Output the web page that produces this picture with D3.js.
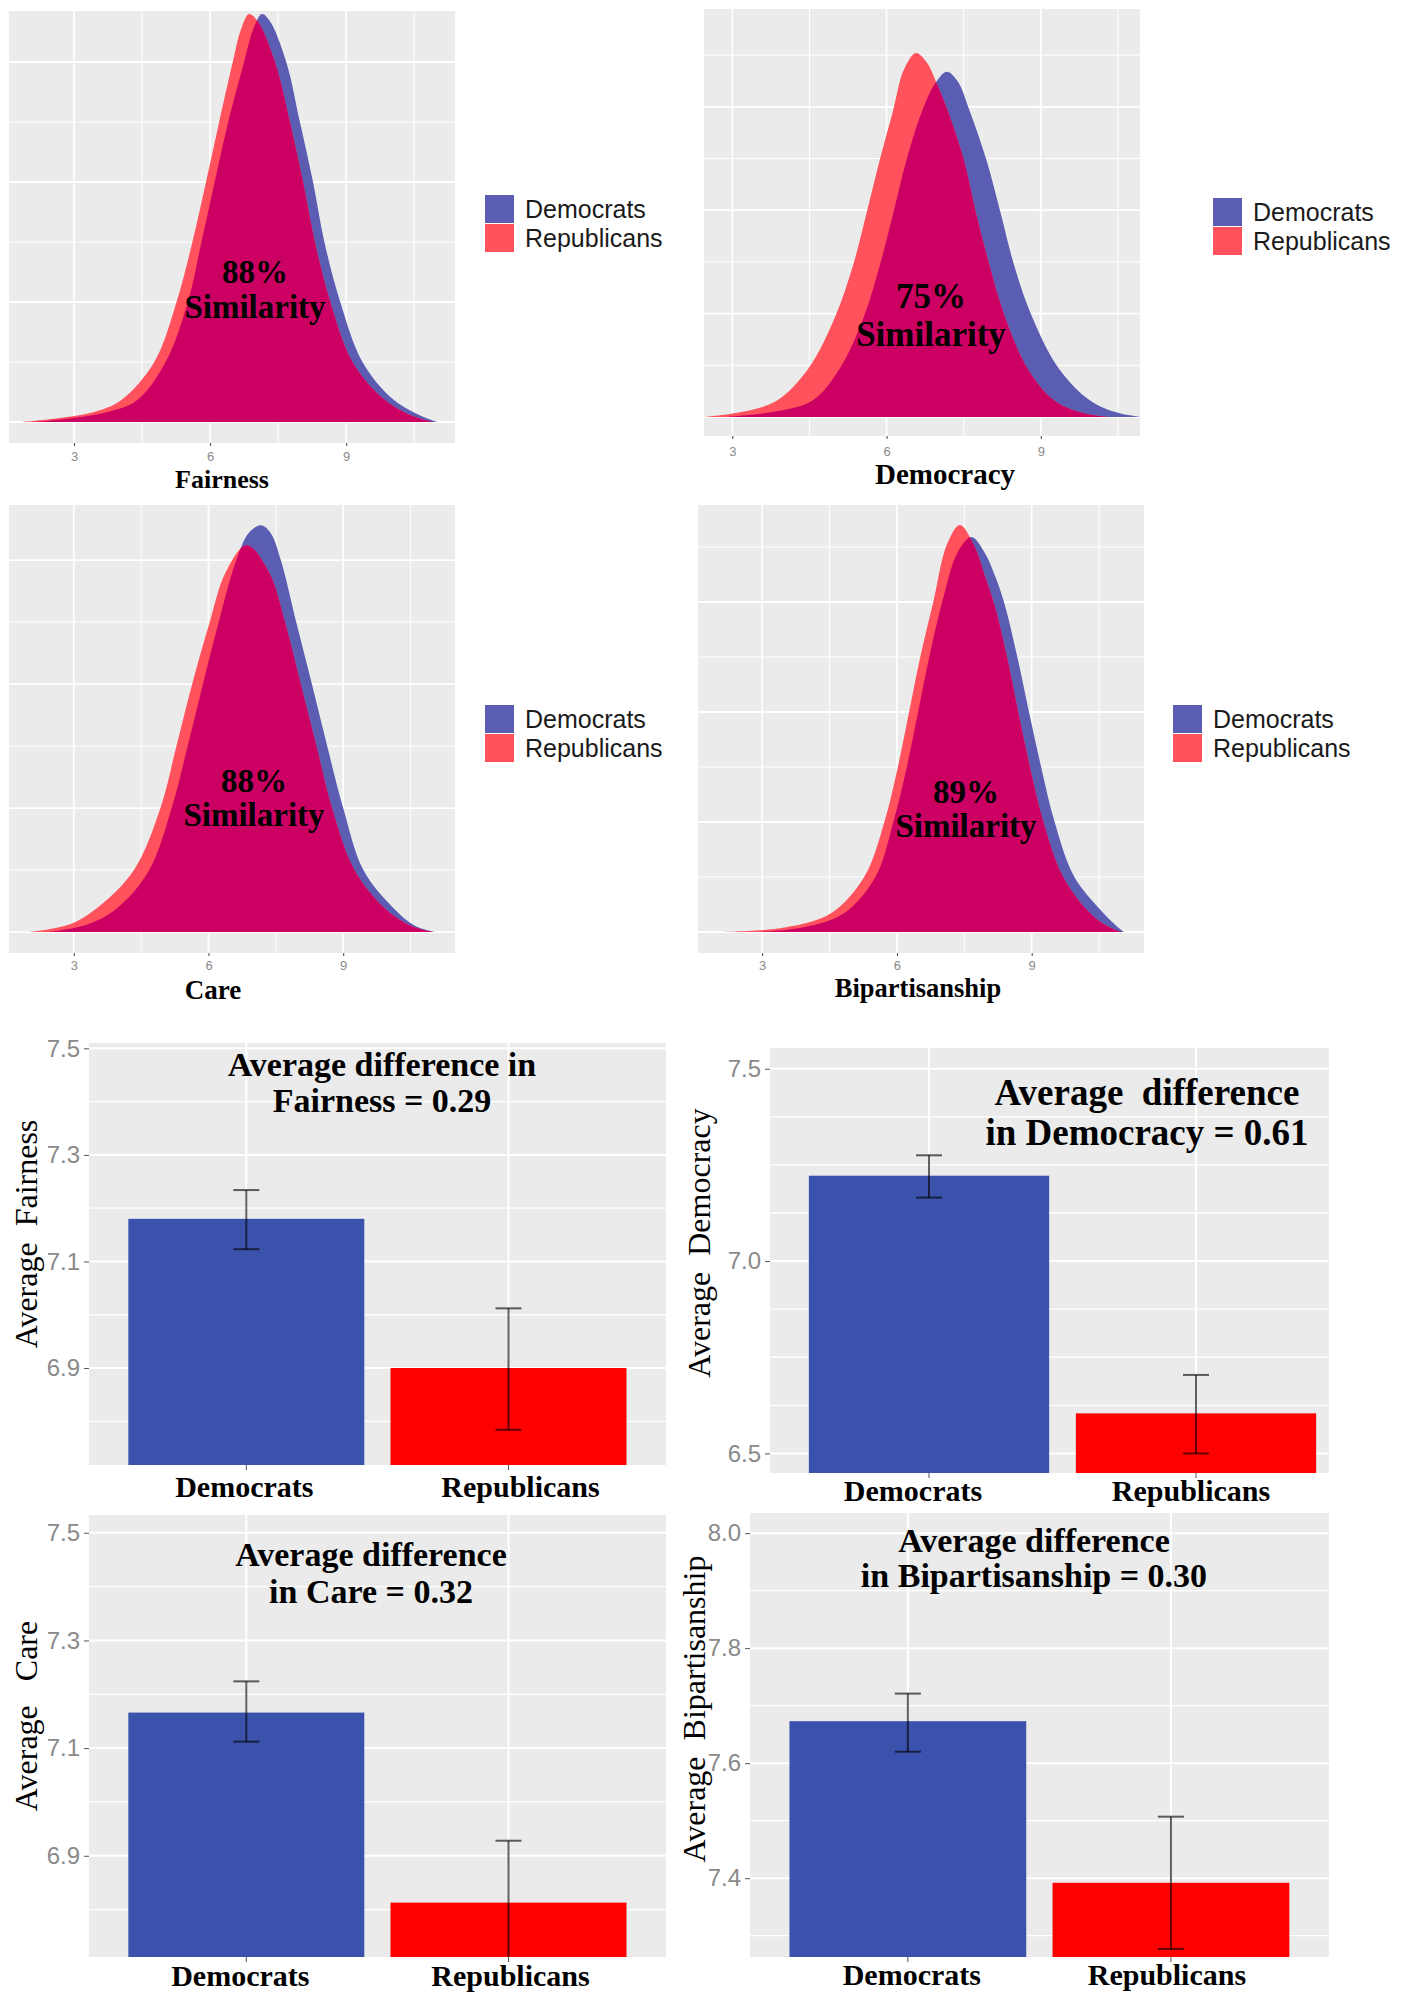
<!DOCTYPE html>
<html><head><meta charset="utf-8">
<script src="https://cdn.jsdelivr.net/npm/d3@7"></script>
<style>
body{margin:0;background:#fff}
svg{display:block}
text{white-space:pre}
</style>
</head><body>
<svg id="chart" width="1402" height="2000"></svg>
<script>
// ---------------- DATA ----------------
const parties = ["Democrats", "Republicans"];
const densityTicks = [3, 6, 9];
const densityNames = ["Fairness", "Democracy", "Care", "Bipartisanship"];
const similarityLabels = ["88%", "75%", "88%", "89%"];

// density curves: [score, density]
const fairnessDem = [[2.1,0],[2.9,0.003],[3.7,0.008],[4.38,0.018],[5.02,0.05],[5.51,0.10],[5.81,0.15],[6.10,0.20],[6.40,0.25],[6.75,0.30],[6.95,0.327],[7.14,0.34],[7.32,0.334],[7.68,0.30],[7.98,0.25],[8.27,0.20],[8.52,0.15],[8.87,0.10],[9.36,0.05],[10.0,0.02],[10.6,0.006],[11.0,0]];
const fairnessRep = [[1.8,0],[2.6,0.003],[3.4,0.008],[4.03,0.018],[4.77,0.05],[5.26,0.10],[5.61,0.15],[5.91,0.20],[6.20,0.25],[6.50,0.30],[6.68,0.327],[6.86,0.34],[7.05,0.334],[7.43,0.30],[7.76,0.25],[8.05,0.20],[8.31,0.15],[8.65,0.10],[9.14,0.05],[9.8,0.02],[10.4,0.006],[10.9,0]];
const democracyDem = [[2.9,0],[3.8,0.005],[4.56,0.016],[5.09,0.047],[5.56,0.097],[5.87,0.147],[6.13,0.197],[6.39,0.249],[6.70,0.297],[6.95,0.323],[7.17,0.334],[7.38,0.325],[7.61,0.297],[7.94,0.249],[8.22,0.197],[8.48,0.147],[8.83,0.097],[9.35,0.047],[9.96,0.016],[10.5,0.004],[10.96,0]];
const democracyRep = [[2.45,0],[3.2,0.005],[3.87,0.016],[4.48,0.047],[5.0,0.097],[5.35,0.147],[5.61,0.197],[5.87,0.249],[6.13,0.297],[6.33,0.335],[6.57,0.352],[6.78,0.343],[6.98,0.322],[7.22,0.292],[7.50,0.249],[7.74,0.197],[8.0,0.147],[8.3,0.097],[8.74,0.047],[9.26,0.016],[9.8,0.004],[10.3,0]];
const careDem = [[2.45,0],[3.3,0.006],[3.99,0.02],[4.68,0.05],[5.18,0.10],[5.53,0.149],[5.87,0.199],[6.22,0.249],[6.62,0.30],[6.9,0.322],[7.17,0.328],[7.38,0.322],[7.61,0.30],[7.96,0.249],[8.31,0.199],[8.65,0.149],[9.00,0.10],[9.45,0.05],[10.10,0.02],[10.6,0.005],[11.04,0]];
const careRep = [[2.0,0],[2.9,0.006],[3.54,0.02],[4.34,0.05],[4.93,0.10],[5.28,0.149],[5.63,0.199],[6.02,0.249],[6.38,0.29],[6.85,0.312],[7.35,0.29],[7.71,0.249],[8.06,0.199],[8.41,0.149],[8.75,0.10],[9.25,0.05],[9.90,0.02],[10.5,0.005],[11.0,0]];
const bipDem = [[2.9,0],[3.9,0.004],[4.82,0.017],[5.52,0.05],[5.92,0.10],[6.22,0.15],[6.47,0.20],[6.72,0.25],[7.02,0.302],[7.35,0.345],[7.66,0.359],[7.95,0.345],[8.2,0.322],[8.41,0.296],[8.68,0.25],[8.94,0.20],[9.21,0.15],[9.51,0.10],[9.95,0.05],[10.60,0.017],[10.9,0.005],[11.05,0]];
const bipRep = [[2.0,0],[3.5,0.004],[4.53,0.017],[5.27,0.05],[5.72,0.10],[6.02,0.15],[6.27,0.20],[6.52,0.25],[6.82,0.302],[7.11,0.352],[7.40,0.37],[7.71,0.352],[7.97,0.322],[8.18,0.296],[8.45,0.25],[8.70,0.20],[8.96,0.15],[9.26,0.10],[9.70,0.05],[10.30,0.017],[10.7,0.005],[11.0,0]];

// bar charts: means and error-bar ends (Democrats, Republicans)
const fairnessMeans = [7.18, 6.90];
const fairnessLow   = [7.123, 6.784];
const fairnessHigh  = [7.234, 7.012];
const democracyMeans = [7.222, 6.604];
const democracyLow   = [7.165, 6.500];
const democracyHigh  = [7.275, 6.704];
const careMeans = [7.166, 6.813];
const careLow   = [7.112, 6.698];
const careHigh  = [7.224, 6.928];
const bipMeans = [7.673, 7.392];
const bipLow   = [7.620, 7.277];
const bipHigh  = [7.721, 7.507];

const fairnessTicks = [6.9, 7.1, 7.3, 7.5];
const democracyTicks = [6.5, 7.0, 7.5];
const careTicks = [6.9, 7.1, 7.3, 7.5];
const bipTicks = [7.4, 7.6, 7.8, 8.0];

const barYLabels = ["Average  Fairness", "Average  Democracy", "Average   Care", "Average  Bipartisanship"];
const barTitles = [
  ["Average difference in", "Fairness = 0.29"],
  ["Average  difference", "in Democracy = 0.61"],
  ["Average difference", "in Care = 0.32"],
  ["Average difference", "in Bipartisanship = 0.30"]
];

// ---------------- STYLE ----------------
const SERIF = "'Liberation Serif','Times New Roman',serif";
const SANS = "'Liberation Sans',Arial,sans-serif";
const C = {bg:"#EBEBEB", dDem:"#5B5DB3", dRep:"#FF525C", dBoth:"#CC0063", bDem:"#3A52AB", bRep:"#FF0000"};

const svg = d3.select("#chart");
const defs = svg.append("defs");

// ---------------- DENSITY PANELS ----------------
const densityLayout = [
  {dem:fairnessDem, rep:fairnessRep, x0:9, x1:455, y0:11, y1:443, xDom:[1.566,11.40], yDom:[-0.0175,0.3425],
   leg:[485,195], simX:255, simY:[283,318], simSize:33, titleX:222, titleY:488, titleSize:26, tickY:461},
  {dem:democracyDem, rep:democracyRep, x0:704, x1:1140, y0:9, y1:436, xDom:[2.449,10.93], yDom:[-0.0184,0.3946],
   leg:[1213,198], simX:931, simY:[308,346], simSize:35, titleX:945, titleY:484, titleSize:29, tickY:456},
  {dem:careDem, rep:careRep, x0:9, x1:455, y0:505, y1:953, xDom:[1.557,11.49], yDom:[-0.0169,0.3444],
   leg:[485,705], simX:254, simY:[792,826], simSize:33, titleX:213, titleY:999, titleSize:27, tickY:970},
  {dem:bipDem, rep:bipRep, x0:698, x1:1144, y0:505, y1:953, xDom:[1.571,11.50], yDom:[-0.0191,0.3882],
   leg:[1173,705], simX:966, simY:[803,837], simSize:33, titleX:918, titleY:997, titleSize:26.5, tickY:970}
];

densityLayout.forEach((p, i) => {
  const g = svg.append("g");
  const x = d3.scaleLinear().domain(p.xDom).range([p.x0, p.x1]);
  const y = d3.scaleLinear().domain(p.yDom).range([p.y1, p.y0]);

  g.append("rect").attr("x", p.x0).attr("y", p.y0).attr("width", p.x1 - p.x0).attr("height", p.y1 - p.y0).attr("fill", C.bg);

  // grid
  const vMajor = densityTicks, vMinor = [4.5, 7.5, 10.5];
  const hVals = d3.range(0, p.yDom[1], 0.05);
  g.selectAll(".vmin").data(vMinor).join("line")
    .attr("x1", d => x(d)).attr("x2", d => x(d)).attr("y1", p.y0).attr("y2", p.y1)
    .attr("stroke", "#fff").attr("stroke-width", 1);
  g.selectAll(".vmaj").data(vMajor).join("line")
    .attr("x1", d => x(d)).attr("x2", d => x(d)).attr("y1", p.y0).attr("y2", p.y1)
    .attr("stroke", "#fff").attr("stroke-width", 1.8);
  g.selectAll(".h").data(hVals).join("line")
    .attr("x1", p.x0).attr("x2", p.x1).attr("y1", d => y(d)).attr("y2", d => y(d))
    .attr("stroke", "#fff").attr("stroke-width", (d, k) => k % 2 === 0 ? 1.8 : 1);

  // clip so that smoothed tails never dip below the baseline
  const pc = "dclip" + i;
  defs.append("clipPath").attr("id", pc).append("rect")
    .attr("x", p.x0).attr("y", p.y0).attr("width", p.x1 - p.x0).attr("height", y(0) - p.y0 + 0.5);

  const area = d3.area().x(d => x(d[0])).y0(y(0)).y1(d => y(d[1])).curve(d3.curveCatmullRom.alpha(0.5));
  const cid = "demclip" + i;
  defs.append("clipPath").attr("id", cid).append("path").attr("d", area(p.dem));
  const dg = g.append("g").attr("clip-path", `url(#${pc})`);
  dg.append("path").attr("d", area(p.dem)).attr("fill", C.dDem);
  dg.append("path").attr("d", area(p.rep)).attr("fill", C.dRep);
  dg.append("path").attr("d", area(p.rep)).attr("fill", C.dBoth).attr("clip-path", `url(#${cid})`);

  // x axis
  const ax = g.append("g").attr("transform", `translate(0,${p.y1})`)
    .call(d3.axisBottom(x).tickValues(densityTicks).tickSize(3).tickPadding(3).tickFormat(d3.format("d")));
  ax.select(".domain").remove();
  ax.selectAll(".tick line").attr("stroke", "#444");
  ax.selectAll(".tick text").attr("fill", "#8a8a8a").attr("font-family", SANS).attr("font-size", 13)
    .attr("y", null).attr("dy", null).attr("transform", `translate(0,${p.tickY - p.y1})`);

  g.append("text").attr("x", p.titleX).attr("y", p.titleY).attr("text-anchor", "middle")
    .attr("font-family", SERIF).attr("font-weight", "bold").attr("font-size", p.titleSize).attr("fill", "#000")
    .text(densityNames[i]);

  // similarity annotation
  g.append("text").attr("x", p.simX).attr("y", p.simY[0]).attr("text-anchor", "middle")
    .attr("font-family", SERIF).attr("font-weight", "bold").attr("font-size", p.simSize).attr("fill", "#000")
    .text(similarityLabels[i]);
  g.append("text").attr("x", p.simX).attr("y", p.simY[1]).attr("text-anchor", "middle")
    .attr("font-family", SERIF).attr("font-weight", "bold").attr("font-size", p.simSize).attr("fill", "#000")
    .text("Similarity");

  // legend
  const lg = g.append("g").attr("transform", `translate(${p.leg[0]},${p.leg[1]})`);
  [C.dDem, C.dRep].forEach((c, k) => {
    lg.append("rect").attr("x", 0).attr("y", k * 29).attr("width", 29).attr("height", 28).attr("fill", c);
    lg.append("text").attr("x", 40).attr("y", k * 29 + 23).attr("font-family", SANS).attr("font-size", 25)
      .attr("fill", "#1a1a1a").text(parties[k]);
  });
});

// ---------------- BAR PANELS ----------------
const barLayout = [
  {means:fairnessMeans, low:fairnessLow, high:fairnessHigh, ticks:fairnessTicks,
   grid:[6.8,6.9,7.0,7.1,7.2,7.3,7.4,7.5], x0:89, x1:666, bandEnd:665.8, y0:1043, y1:1465, yDom:[6.718,7.510],
   titleX:382, titleY:[1076,1112], titleSize:34, ylabX:37, ylabY:1234, labY:1497, labDx:[-2,12]},
  {means:democracyMeans, low:democracyLow, high:democracyHigh, ticks:democracyTicks,
   grid:[6.5,6.625,6.75,6.875,7.0,7.125,7.25,7.375,7.5], x0:770, x1:1329, bandStart:768.8, bandEnd:1356.2, y0:1048, y1:1473, yDom:[6.449,7.554],
   titleX:1147, titleY:[1105,1145], titleSize:37, ylabX:710, ylabY:1243, labY:1501, labDx:[-16,-5]},
  {means:careMeans, low:careLow, high:careHigh, ticks:careTicks,
   grid:[6.8,6.9,7.0,7.1,7.2,7.3,7.4,7.5], x0:89, x1:666, bandEnd:665.8, y0:1515, y1:1957, yDom:[6.712,7.533],
   titleX:371, titleY:[1566,1603], titleSize:34, ylabX:37, ylabY:1716, labY:1986, labDx:[-6,2]},
  {means:bipMeans, low:bipLow, high:bipHigh, ticks:bipTicks,
   grid:[7.3,7.4,7.5,7.6,7.7,7.8,7.9,8.0], x0:750, x1:1329, bandEnd:1328.8, y0:1513, y1:1957, yDom:[7.263,8.035],
   titleX:1034, titleY:[1552,1587], titleSize:34, ylabX:705, ylabY:1709, labY:1985, labDx:[4,-4]}
];

barLayout.forEach((p, i) => {
  const g = svg.append("g");
  const bs = p.bandStart !== undefined ? p.bandStart : p.x0;
  // ggplot-like discrete scale: bars 0.9 wide, 0.6 expansion at each end
  const x = d3.scaleBand().domain(parties).range([bs, p.bandEnd]).paddingInner(0.1).paddingOuter(0.15);
  const y = d3.scaleLinear().domain(p.yDom).range([p.y1, p.y0]);
  const cid = "barclip" + i;
  defs.append("clipPath").attr("id", cid).append("rect")
    .attr("x", p.x0).attr("y", p.y0).attr("width", p.x1 - p.x0).attr("height", p.y1 - p.y0);

  g.append("rect").attr("x", p.x0).attr("y", p.y0).attr("width", p.x1 - p.x0).attr("height", p.y1 - p.y0).attr("fill", C.bg);
  const majors = new Set(p.ticks.map(v => v.toFixed(3)));
  g.selectAll(".hg").data(p.grid).join("line")
    .attr("x1", p.x0).attr("x2", p.x1).attr("y1", d => y(d)).attr("y2", d => y(d))
    .attr("stroke", "#fff").attr("stroke-width", d => majors.has(d.toFixed(3)) ? 2 : 1.3);
  g.selectAll(".vg").data(parties).join("line")
    .attr("x1", d => x(d) + x.bandwidth() / 2).attr("x2", d => x(d) + x.bandwidth() / 2)
    .attr("y1", p.y0).attr("y2", p.y1).attr("stroke", "#fff").attr("stroke-width", 2);

  const plot = g.append("g").attr("clip-path", `url(#${cid})`);
  plot.selectAll(".bar").data(parties).join("rect")
    .attr("x", d => x(d)).attr("width", x.bandwidth())
    .attr("y", (d, k) => y(p.means[k])).attr("height", (d, k) => p.y1 - y(p.means[k]) + 2)
    .attr("fill", (d, k) => k === 0 ? C.bDem : C.bRep);

  const cap = 13;
  parties.forEach((d, k) => {
    const cx = x(d) + x.bandwidth() / 2;
    const eg = plot.append("g").attr("stroke", "#000").attr("stroke-opacity", 0.62).attr("stroke-width", 2);
    eg.append("line").attr("x1", cx).attr("x2", cx).attr("y1", y(p.high[k])).attr("y2", y(p.low[k]));
    eg.append("line").attr("x1", cx - cap).attr("x2", cx + cap).attr("y1", y(p.high[k])).attr("y2", y(p.high[k]));
    eg.append("line").attr("x1", cx - cap).attr("x2", cx + cap).attr("y1", y(p.low[k])).attr("y2", y(p.low[k]));
  });

  // y axis
  const ay = g.append("g").attr("transform", `translate(${p.x0},0)`)
    .call(d3.axisLeft(y).tickValues(p.ticks).tickSize(5).tickPadding(4).tickFormat(d3.format(".1f")));
  ay.select(".domain").remove();
  ay.selectAll(".tick line").attr("stroke", "#555");
  ay.selectAll(".tick text").attr("fill", "#8a8a8a").attr("font-family", SANS).attr("font-size", 24);

  // x axis
  const axx = g.append("g").attr("transform", `translate(0,${p.y1})`)
    .call(d3.axisBottom(x).tickSize(5).tickFormat(""));
  axx.select(".domain").remove();
  axx.selectAll(".tick line").attr("stroke", "#555");
  g.selectAll(".xl").data(parties).join("text")
    .attr("x", (d, k) => x(d) + x.bandwidth() / 2 + p.labDx[k]).attr("y", p.labY)
    .attr("text-anchor", "middle").attr("font-family", SERIF).attr("font-weight", "bold")
    .attr("font-size", 30).attr("fill", "#000").text(d => d);

  // y label
  g.append("text").attr("transform", `translate(${p.ylabX},${p.ylabY}) rotate(-90)`)
    .attr("text-anchor", "middle").attr("font-family", SERIF).attr("font-size", 32).attr("fill", "#000")
    .text(barYLabels[i]);

  // title
  barTitles[i].forEach((t, k) => {
    g.append("text").attr("x", p.titleX).attr("y", p.titleY[k]).attr("text-anchor", "middle")
      .attr("font-family", SERIF).attr("font-weight", "bold").attr("font-size", p.titleSize).attr("fill", "#000")
      .text(t);
  });
});
</script>
</body></html>
